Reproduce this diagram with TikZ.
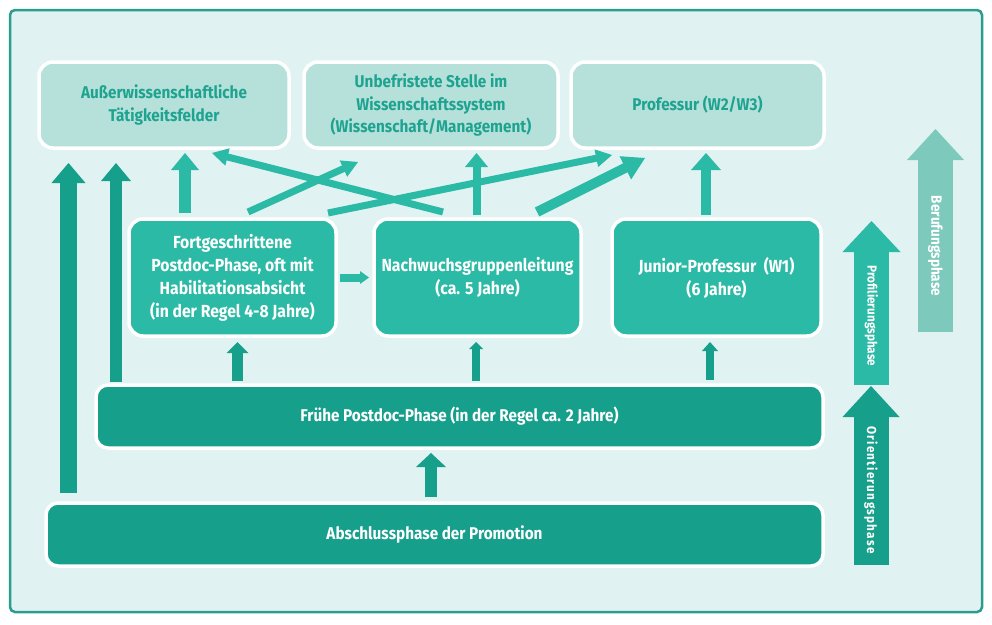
\documentclass[tikz,border=0pt]{standalone}
\usepackage{fontspec}
\setmainfont{Fira Sans}[FakeStretch=0.9]
\usetikzlibrary{calc}
\definecolor{frameC}{HTML}{2A9D8F}
\definecolor{bgC}{HTML}{E1F2F2}
\definecolor{topC}{HTML}{B6E1DA}
\definecolor{topT}{HTML}{1FA391}
\definecolor{midC}{HTML}{2BBAA5}
\definecolor{darkC}{HTML}{16A08C}
\definecolor{berC}{HTML}{7DCABD}
% block arrow: start, end, shaft width, half head width, head length, colour
\newcommand\barrow[6]{%
  \coordinate (hb) at ($(#2)!#5!(#1)$);
  \draw[#6, line width=#3] (#1) -- ($(hb)!0.6pt!(#2)$);
  \fill[#6] (#2) -- ($(hb)!#4!90:(#2)$) -- ($(hb)!#4!-90:(#2)$) -- cycle;
}
\tikzset{
  box/.style={draw=white, line width=3.5pt, align=center, inner sep=0pt, font=\bfseries},
  topbox/.style={box, fill=topC, text=topT, rounded corners=14pt, minimum height=86pt,
     font=\bfseries\fontsize{17}{22.5}\selectfont},
  midbox/.style={box, fill=midC, text=white, rounded corners=14pt, minimum height=117pt,
     font=\bfseries\fontsize{17.5}{23}\selectfont},
  lowbox/.style={box, fill=darkC, text=white, rounded corners=12pt, minimum height=63pt,
     font=\bfseries\fontsize{17}{20}\selectfont},
  phasetext/.style={rotate=-90, text=white, inner sep=0pt, font=\bfseries\fontsize{13}{13}\selectfont}
}
\begin{document}
\begin{tikzpicture}[x=1pt,y=-1pt]
\useasboundingbox (0,0) rectangle (992,624);
\fill[white] (0,0) rectangle (992,624);
\draw[frameC, fill=bgC, line width=2.5pt, rounded corners=5pt] (10,10) rectangle (982,612);

% top boxes
\node[topbox, minimum width=250pt] (aus) at (164,105) {Außerwissenschaftliche\\Tätigkeitsfelder};
\node[topbox, minimum width=254pt] (unb) at (431,105) {Unbefristete Stelle im\\Wissenschaftssystem\\(Wissenschaft/Management)};
\node[topbox, minimum width=253pt] (prof) at (697.5,105) {Professur (W2/W3)};

% middle boxes
\node[midbox, minimum width=207pt] (fort) at (232.5,277.5) {Fortgeschrittene\\Postdoc-Phase, oft mit\\Habilitationsabsicht\\(in der Regel 4-8 Jahre)};
\node[midbox, minimum width=207pt] (nach) at (477.5,277.5) {Nachwuchsgruppenleitung\\(ca. 5 Jahre)};
\node[midbox, minimum width=209pt] (jun) at (716.5,277.5) {Junior-Professur~~(W1)\\(6 Jahre)};

% lower boxes
\node[lowbox, minimum width=727pt] (frueh) at (459.5,416.5) {Frühe Postdoc-Phase (in der Regel ca. 2 Jahre)};
\node[lowbox, minimum width=777pt] (absch) at (434.5,534.5) {Abschlussphase der Promotion};

% connector end points
\coordinate (l1s) at (68.5,493);  \coordinate (l1e) at (68.5,163);
\coordinate (l2s) at (116,382);   \coordinate (l2e) at (116,163);
\coordinate (a1s) at (237.5,381); \coordinate (a1e) at (237.5,342);
\coordinate (a2s) at (476,381);   \coordinate (a2e) at (476,342);
\coordinate (a3s) at (710,380);   \coordinate (a3e) at (710,342);
\coordinate (a4s) at (431,497);   \coordinate (a4e) at (431,453);
\coordinate (t1s) at (185,213);   \coordinate (t1e) at (185,153);
\coordinate (t2s) at (476.5,215); \coordinate (t2e) at (476.5,153);
\coordinate (t3s) at (706,215);   \coordinate (t3e) at (706,153);
\coordinate (hs) at (340,277.5);  \coordinate (he) at (369,277.5);
\coordinate (c1s) at (443,212);   \coordinate (c1e) at (212,153);
\coordinate (c2s) at (248,212);   \coordinate (c2e) at (358,162);
\coordinate (c3s) at (328,213);   \coordinate (c3e) at (612,155);
\coordinate (c4s) at (537,212);   \coordinate (c4e) at (645,158);

% dark arrows
\barrow{l1s}{l1e}{17pt}{17pt}{20pt}{darkC}
\barrow{l2s}{l2e}{12pt}{15pt}{18pt}{darkC}
\barrow{a1s}{a1e}{11pt}{11pt}{11pt}{darkC}
\barrow{a2s}{a2e}{8pt}{7pt}{7pt}{darkC}
\barrow{a3s}{a3e}{8pt}{8pt}{9pt}{darkC}
\barrow{a4s}{a4e}{12pt}{15pt}{14pt}{darkC}

% light arrows
\barrow{t1s}{t1e}{12pt}{14pt}{17pt}{midC}
\barrow{t2s}{t2e}{8pt}{11.5pt}{14pt}{midC}
\barrow{t3s}{t3e}{10pt}{15pt}{17pt}{midC}
\barrow{hs}{he}{8pt}{6.5pt}{9pt}{midC}
\barrow{c1s}{c1e}{7pt}{9pt}{16pt}{midC}
\barrow{c2s}{c2e}{7pt}{9pt}{16pt}{midC}
\barrow{c3s}{c3e}{7pt}{9pt}{16pt}{midC}
\barrow{c4s}{c4e}{10pt}{13pt}{22pt}{midC}

% phase arrows
\coordinate (bs) at (935.5,332); \coordinate (be) at (935.5,129);
\coordinate (ps) at (871.5,385); \coordinate (pe) at (871.5,221);
\coordinate (os) at (871,565);   \coordinate (oe) at (871,386);
\barrow{bs}{be}{35pt}{28.5pt}{31pt}{berC}
\barrow{ps}{pe}{35pt}{29pt}{31pt}{midC}
\barrow{os}{oe}{35pt}{28.5pt}{31pt}{darkC}
\node[phasetext, font=\bfseries\fontsize{15}{15}\selectfont] (bt) at (935.5,246) {Berufungsphase};
\node[phasetext] (pt) at (871.5,316) {Profilierungsphase};
\node[phasetext, font=\bfseries\fontsize{13}{13}\selectfont\addfontfeature{LetterSpace=10}] (ot) at (871,490) {Orientierungsphase};
\end{tikzpicture}
\end{document}
